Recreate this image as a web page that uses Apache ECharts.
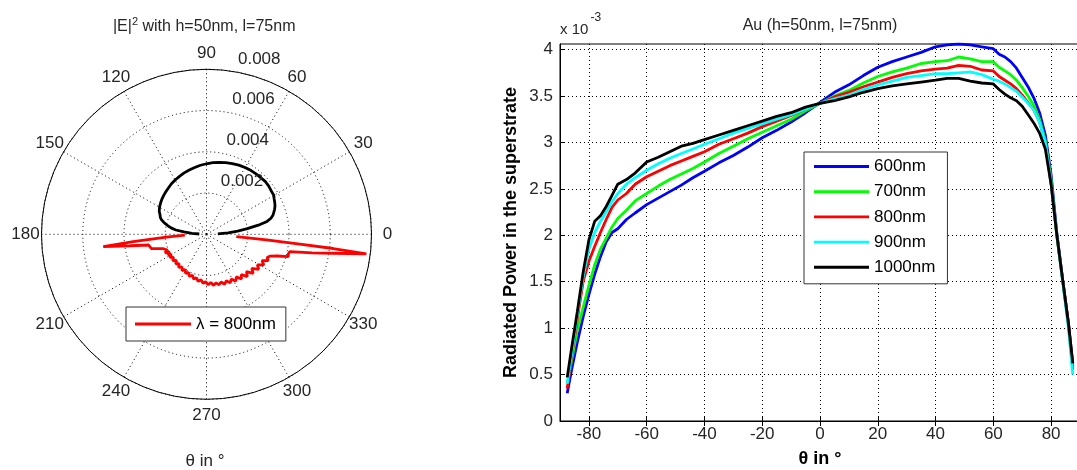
<!DOCTYPE html>
<html><head><meta charset="utf-8">
<script src="https://cdn.jsdelivr.net/npm/echarts@6/dist/echarts.min.js"></script>
<style>html,body{margin:0;padding:0;background:#fff}#c{width:1077px;height:470px}</style>
</head><body><div id="c"></div>
<script>
// ---- data (right chart: radiated power, units of 1e-3) ----
const theta = [-87.5,-86,-84,-82,-80,-78,-76,-74,-72,-70,-67,-64,-60,-56,-52,-48,-44,-40,-35,-30,-25,-20,-15,-10,-5,0,5,10,15,20,25,30,35,40,44,48,52,56,60,62,64,66,68,70,72,74,76,78,80,82,84,86,87.5];
const p600 = [0.30,0.55,0.85,1.12,1.36,1.58,1.77,1.93,2.03,2.07,2.17,2.24,2.33,2.40,2.47,2.54,2.62,2.69,2.78,2.86,2.95,3.05,3.13,3.22,3.32,3.43,3.54,3.62,3.72,3.81,3.87,3.92,3.97,4.03,4.05,4.06,4.05,4.03,4.01,3.95,3.92,3.87,3.80,3.70,3.60,3.48,3.32,3.08,2.65,2.02,1.52,1.05,0.62];
const p700 = [0.40,0.65,0.98,1.22,1.46,1.68,1.85,1.97,2.09,2.18,2.27,2.37,2.45,2.53,2.60,2.66,2.72,2.79,2.88,2.96,3.04,3.11,3.18,3.25,3.34,3.42,3.50,3.56,3.64,3.71,3.76,3.80,3.85,3.87,3.88,3.92,3.90,3.87,3.87,3.81,3.77,3.73,3.67,3.59,3.50,3.40,3.25,3.02,2.60,1.98,1.52,1.03,0.58];
const p800 = [0.35,0.70,1.10,1.50,1.72,1.88,2.03,2.17,2.30,2.38,2.45,2.55,2.63,2.69,2.75,2.80,2.85,2.90,2.98,3.04,3.10,3.17,3.23,3.29,3.36,3.42,3.49,3.54,3.60,3.65,3.70,3.74,3.77,3.79,3.80,3.83,3.82,3.78,3.77,3.71,3.67,3.63,3.58,3.51,3.43,3.35,3.22,3.00,2.55,2.00,1.52,1.05,0.55];
const p900 = [0.40,0.72,1.15,1.55,1.85,2.03,2.15,2.25,2.36,2.45,2.55,2.62,2.70,2.77,2.83,2.88,2.93,2.98,3.04,3.10,3.15,3.20,3.25,3.30,3.36,3.42,3.47,3.51,3.57,3.62,3.66,3.70,3.72,3.74,3.74,3.75,3.76,3.73,3.68,3.66,3.63,3.59,3.55,3.49,3.42,3.35,3.22,3.00,2.55,2.00,1.50,1.00,0.50];
const p1000 = [0.47,0.78,1.18,1.60,1.95,2.15,2.21,2.31,2.43,2.55,2.60,2.67,2.79,2.84,2.90,2.96,2.99,3.03,3.08,3.13,3.18,3.23,3.28,3.32,3.38,3.42,3.45,3.49,3.54,3.58,3.61,3.63,3.65,3.67,3.69,3.69,3.66,3.64,3.63,3.57,3.52,3.48,3.45,3.39,3.30,3.21,3.10,2.93,2.55,2.00,1.52,1.05,0.62];
const waveNames = ['600nm','700nm','800nm','900nm','1000nm'];
const xTicks = [-80,-60,-40,-20,0,20,40,60,80];
const yTicks = [0,0.5,1,1.5,2,2.5,3,3.5,4];

// ---- data (left polar chart, radius in units of 1e-3, angle in degrees) ----
const redPhi = [182,184,185.7,186.8,188.5,190.5,192.5,194.5,196.5,198.5,200,202,204,206,208,210,212,215,218,221,224,227,230,233,236,239,242,245,248,251,254,257,260,263,266,269,272,275,278,281,284,287,290,293,296,299,302,305,308,311,314,317,320,323,326,329,332,334.5,337,339,341,343,344.7,346.5,348.2,350,351.5,353,353.6,354,354.6,355.5];
const redR = [1.05,1.95,3.57,5.04,3.75,2.85,2.80,2.76,2.45,2.20,2.30,2.05,2.20,1.98,2.12,1.96,2.10,1.95,2.08,1.93,2.07,1.95,2.10,1.98,2.12,2.00,2.15,2.05,2.20,2.10,2.25,2.17,2.32,2.22,2.38,2.30,2.45,2.35,2.50,2.40,2.52,2.42,2.58,2.45,2.62,2.48,2.68,2.52,2.75,2.58,2.85,2.65,2.95,2.75,3.05,2.88,3.15,2.98,3.25,3.15,3.25,3.60,4.11,4.08,4.12,5.20,6.21,7.81,6.18,4.55,2.92,1.45];
const redLegend = 'λ = 800nm';
const angleTicks = [0,30,60,90,120,150,180,210,240,270,300,330];
const radTicks = [2,4,6,8];

const FONT = "'Liberation Sans', Arial, Helvetica, sans-serif";
const chart = echarts.init(document.getElementById('c'), null, {renderer:'canvas'});
const dotted = {color:'#000', width:1, type:[1,3]};
const lineColors = ['#0000ff','#00ff00','#ff0000','#00ffff','#000000'];
const LINE_ICON = 'path://M0,0L56,0L56,3L0,3Z';

const rightSeries = [p600,p700,p800,p900,p1000].map((arr,k)=>({
  name: waveNames[k], type:'line', xAxisIndex:0, yAxisIndex:0,
  data: theta.map((t,i)=>[t,arr[i]]),
  symbol:'none', showSymbol:false, clip:true, z:2+k,
  lineStyle:{color:lineColors[k], width:2.8}, itemStyle:{color:lineColors[k]}
}));

const option = {
  animation:false,
  backgroundColor:'#fff',
  grid:[{left:560, top:44, width:520, height:377, containLabel:false, outerBoundsMode:'none',
         show:true, borderColor:'#000', borderWidth:1, backgroundColor:'transparent'}],
  xAxis:[{
    type:'value', gridIndex:0, min:-90, max:90, position:'bottom',
    axisLine:{show:true, onZero:false, lineStyle:{color:'#000', width:1}},
    axisTick:{show:true, inside:true, length:5, customValues:xTicks, lineStyle:{color:'#000'}},
    axisLabel:{customValues:xTicks, margin:5, fontSize:17, color:'#262626', fontFamily:FONT},
    splitLine:{show:true, lineStyle:dotted},
    name:'θ in °', nameLocation:'middle', nameGap:29,
    nameTextStyle:{fontSize:18, fontWeight:'bold', color:'#000', fontFamily:FONT}
  },{
    type:'value', gridIndex:0, min:-90, max:90, position:'top',
    axisLine:{show:false},
    axisTick:{show:true, inside:true, length:5, customValues:xTicks, lineStyle:{color:'#000'}},
    axisLabel:{show:false}, splitLine:{show:false}
  }],
  yAxis:[{
    type:'value', gridIndex:0, min:0, max:4.06,
    axisLine:{show:true, onZero:false, lineStyle:{color:'#000', width:1}},
    axisTick:{show:true, inside:true, length:5, customValues:yTicks, lineStyle:{color:'#000'}},
    axisLabel:{customValues:yTicks, margin:7, fontSize:17, color:'#262626', fontFamily:FONT},
    splitLine:{show:true, lineStyle:dotted},
    name:'Radiated Power in the superstrate', nameLocation:'middle', nameGap:40, nameRotate:90,
    nameTextStyle:{fontSize:18, fontWeight:'bold', color:'#000', fontFamily:FONT}
  }],
  polar:[{center:[206.5,234.3], radius:165}],
  angleAxis:[{
    polarIndex:0, type:'value', min:0, max:360, interval:30, startAngle:0, clockwise:false,
    axisLine:{show:true, lineStyle:{color:'#000', width:1}},
    axisTick:{show:false}, axisLabel:{show:false},
    splitLine:{show:true, lineStyle:dotted}
  }],
  radiusAxis:[{
    polarIndex:0, type:'value', min:0, max:8, interval:2,
    axisLine:{show:false}, axisTick:{show:false}, axisLabel:{show:false},
    splitLine:{show:true, lineStyle:dotted}
  }],
  legend:[{
    data:[{name:redLegend, icon:LINE_ICON}], left:126, top:307, orient:'horizontal',
    itemWidth:56, itemHeight:14, padding:[8.5,10,8.5,9],
    borderColor:'#333', borderWidth:1, backgroundColor:'#fff',
    textStyle:{fontSize:17, color:'#000', fontFamily:FONT}
  },{
    data:waveNames.map(n=>({name:n, icon:LINE_ICON})), left:804, top:152, orient:'vertical',
    itemWidth:55, itemHeight:14, itemGap:8.2, padding:[6,12,8,10],
    borderColor:'#333', borderWidth:1, backgroundColor:'#fff',
    textStyle:{fontSize:17, color:'#000', fontFamily:FONT}
  }],
  series: rightSeries.concat([
    {name:'|E|2 (800nm)', type:'line', coordinateSystem:'polar', polarIndex:0,
     data: theta.map((t,i)=>[p800[i], 90 - t]), symbol:'none', showSymbol:false,
     lineStyle:{color:'#000', width:2.8}, itemStyle:{color:'#000'}, z:3},
    {name:redLegend, type:'line', coordinateSystem:'polar', polarIndex:0,
     data: redPhi.map((a,i)=>[redR[i], a]), symbol:'none', showSymbol:false,
     lineStyle:{color:'#ff0000', width:2.8}, itemStyle:{color:'#ff0000'}, z:4}
  ])
};
chart.setOption(option);

// ---- text placed through the library's polar scale ----
const g = [];
const labelR = 8 * 181 / 165;
angleTicks.forEach(a => {
  const p = chart.convertToPixel({polarIndex:0}, [labelR, a]);
  g.push({type:'text', x:p[0], y:p[1], z:10, style:{text:String(a), fontSize:17, fontFamily:FONT, fill:'#262626', align:'center', verticalAlign:'middle', textAlign:'center', textVerticalAlign:'middle'}});
});
radTicks.forEach(v => {
  const p = chart.convertToPixel({polarIndex:0}, [v, 82]);
  g.push({type:'text', x:p[0]+8.5, y:p[1]-12, z:10, style:{text:(v/1000).toFixed(3), fontSize:17, fontFamily:FONT, fill:'#262626', align:'left', verticalAlign:'middle', textAlign:'left', textVerticalAlign:'middle'}});
});
g.push({type:'text', x:204.2, y:27, z:10, style:{
  text:'{b||E|}{s|2}{b| with h=50nm, l=75nm}', align:'center', verticalAlign:'middle', textAlign:'center', textVerticalAlign:'middle',
  rich:{b:{fontSize:16, fontFamily:FONT, fill:'#262626', color:'#262626', lineHeight:22}, s:{fontSize:11, fontFamily:FONT, fill:'#262626', color:'#262626', lineHeight:12, verticalAlign:'top'}}}});
g.push({type:'text', x:205, y:461, z:10, style:{text:'θ in °', fontSize:17, fontFamily:FONT, fill:'#262626', align:'center', verticalAlign:'middle', textAlign:'center', textVerticalAlign:'middle'}});
g.push({type:'text', x:820, y:26, z:10, style:{text:'Au (h=50nm, l=75nm)', fontSize:16, fontFamily:FONT, fill:'#262626', align:'center', verticalAlign:'middle', textAlign:'center', textVerticalAlign:'middle'}});
g.push({type:'text', x:560, y:29.5, z:10, style:{text:'x 10', fontSize:15, fontFamily:FONT, fill:'#262626', align:'left', verticalAlign:'middle', textAlign:'left', textVerticalAlign:'middle'}});
g.push({type:'text', x:590.5, y:18, z:10, style:{text:'-3', fontSize:12, fontFamily:FONT, fill:'#262626', align:'left', verticalAlign:'middle', textAlign:'left', textVerticalAlign:'middle'}});
chart.setOption({graphic:g});
</script>
</body></html>
